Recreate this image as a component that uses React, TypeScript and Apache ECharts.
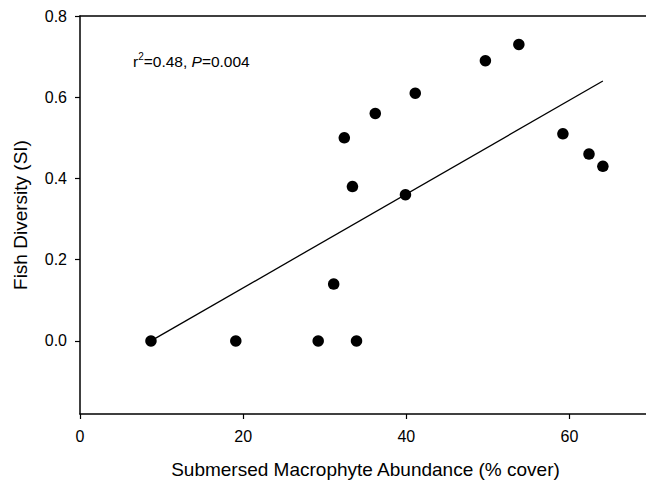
import React, { useEffect, useRef } from "react";
import * as echarts from "echarts";

const macrophyteCover: number[] = [8.7, 19.1, 29.2, 33.9, 31.1, 32.4, 33.4, 36.2, 39.9, 41.1, 49.7, 53.8, 59.2, 62.4, 64.1];
const fishDiversity: number[] = [0.0, 0.0, 0.0, 0.0, 0.14, 0.5, 0.38, 0.56, 0.36, 0.61, 0.69, 0.73, 0.51, 0.46, 0.43];
const fitX: number[] = [8.7, 64.1];
const fitY: number[] = [0.0, 0.64];
const xTicks: number[] = [0, 20, 40, 60];
const yTicks: number[] = [0, 0.2, 0.4, 0.6, 0.8];
const xTitle = "Submersed Macrophyte Abundance (% cover)";
const yTitle = "Fish Diversity (SI)";

const FONT = "'Liberation Sans', Arial, sans-serif";

export default function App() {
  const ref = useRef<HTMLDivElement>(null);
  useEffect(() => {
    if (!ref.current) return;
    const chart = echarts.init(ref.current, undefined, { renderer: "svg" });
    const axisLine = { show: true, onZero: false, lineStyle: { color: "#000", width: 1.5 } };
    chart.setOption({
      animation: false,
      backgroundColor: "#fff",
      textStyle: { fontFamily: FONT, color: "#000" },
      grid: { left: 80, top: 16, width: 571, height: 398, containLabel: false, outerBoundsMode: "none" },
      xAxis: [
        {
          type: "value",
          min: 0,
          max: 70,
          position: "bottom",
          axisLine,
          axisTick: { show: true, length: 5, inside: false, customValues: xTicks, lineStyle: { color: "#000", width: 1.2 } },
          axisLabel: { customValues: xTicks, fontSize: 16, color: "#000", margin: 14, fontFamily: FONT },
          splitLine: { show: false },
          name: xTitle,
          nameLocation: "middle",
          nameGap: 46,
          nameTextStyle: { fontSize: 19, color: "#000", fontFamily: FONT },
        },
        {
          type: "value",
          min: 0,
          max: 70,
          position: "top",
          axisLine,
          axisTick: { show: false },
          axisLabel: { show: false },
          splitLine: { show: false },
        },
      ],
      yAxis: {
        type: "value",
        min: -0.18,
        max: 0.8,
        axisLine,
        axisTick: { show: true, length: 5, inside: false, customValues: yTicks, lineStyle: { color: "#000", width: 1.2 } },
        axisLabel: {
          customValues: yTicks,
          fontSize: 16,
          color: "#000",
          margin: 13,
          fontFamily: FONT,
          formatter: (v: number) => v.toFixed(1),
        },
        splitLine: { show: false },
        name: yTitle,
        nameLocation: "middle",
        nameGap: 50,
        nameTextStyle: { fontSize: 19, color: "#000", fontFamily: FONT },
      },
      graphic: [
        {
          type: "text",
          left: 133,
          top: 51,
          style: {
            text: "{n|r}{sup|2}{n|=0.48, }{i|P}{n|=0.004}",
            fill: "#000",
            rich: {
              n: { fontSize: 15.5, fontFamily: FONT, fill: "#000", lineHeight: 18, verticalAlign: "bottom" },
              i: { fontSize: 15.5, fontFamily: FONT, fontStyle: "italic", fill: "#000", lineHeight: 18, verticalAlign: "bottom" },
              sup: { fontSize: 10, fontFamily: FONT, fill: "#000", lineHeight: 18, verticalAlign: "top" },
            },
          },
        },
      ],
      series: [
        {
          type: "line",
          data: fitX.map((x, i) => [x, fitY[i]]),
          symbol: "none",
          lineStyle: { color: "#000", width: 1.3 },
          z: 2,
        },
        {
          type: "scatter",
          data: macrophyteCover.map((x, i) => [x, fishDiversity[i]]),
          symbol: "circle",
          symbolSize: 11.5,
          itemStyle: { color: "#000", opacity: 1 },
          z: 3,
        },
      ],
    });
    return () => chart.dispose();
  }, []);
  return <div ref={ref} style={{ width: 646, height: 481, position: "absolute", left: 0, top: 0 }} />;
}
